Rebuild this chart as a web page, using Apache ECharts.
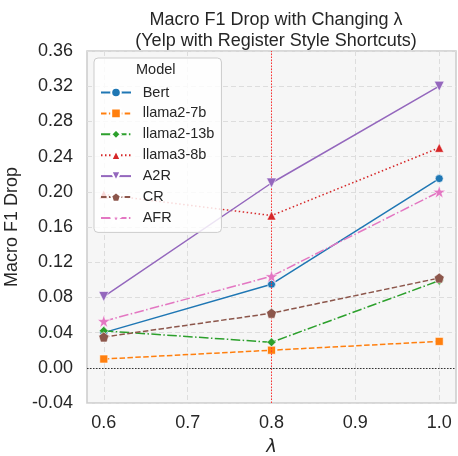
<!DOCTYPE html>
<html><head><meta charset="utf-8">
<script src="https://cdn.jsdelivr.net/npm/echarts@6/dist/echarts.min.js"></script>
<style>html,body{margin:0;padding:0;background:#fff}#c{width:458px;height:456px}</style>
</head><body><div id="c"></div>
<script>
const lambdas = [0.6, 0.8, 1.0];
const xTicks = [0.6, 0.7, 0.8, 0.9, 1.0];
const xRange = [0.58, 1.02];
const yRange = [-0.04, 0.36];
const refLambda = 0.8;
const modelNames = ['Bert', 'llama2-7b', 'llama2-13b', 'llama3-8b', 'A2R', 'CR', 'AFR'];
const bert = [0.040, 0.095, 0.215];
const llama27b = [0.010, 0.020, 0.030];
const llama213b = [0.042, 0.029, 0.099];
const llama38b = [0.197, 0.173, 0.250];
const a2r = [0.081, 0.210, 0.320];
const cr = [0.035, 0.062, 0.102];
const afr = [0.053, 0.104, 0.200];
const seriesValues = [bert, llama27b, llama213b, llama38b, a2r, cr, afr];
const colors = ['#1f77b4', '#ff7f0e', '#2ca02c', '#d62728', '#9467bd', '#8c564b', '#e377c2'];
const lineTypes = ['solid', [5.5, 2.4], [9.6, 2.4, 1.5, 2.4], [1.5, 2.5], 'solid', [5.5, 2.4], [9.6, 2.4, 1.5, 2.4]];
const symbols = ['circle', 'rect', 'diamond', 'triangle',
  'path://M0,0 L10,0 L5,9 Z',
  'path://M5,0 L10,3.6 L8.1,9.5 L1.9,9.5 L0,3.6 Z',
  'path://M50,0 L61.8,35.5 L99,35.5 L69,57.5 L80.5,93 L50,71 L19.5,93 L31,57.5 L1,35.5 L38.2,35.5 Z'];
const symbolSizes = [8, 8, 9, 9, 10, 10, 13];

const font = 'Liberation Sans';
const chart = echarts.init(document.getElementById('c'), null, {renderer: 'canvas'});

const series = modelNames.map((name, i) => ({
  name: name,
  type: 'line',
  data: lambdas.map((x, j) => [x, seriesValues[i][j]]),
  symbol: symbols[i],
  symbolSize: symbolSizes[i],
  showAllSymbol: true,
  color: colors[i],
  lineStyle: {color: colors[i], width: 1.5, type: lineTypes[i]},
  itemStyle: {color: colors[i], borderColor: '#ffffff', borderWidth: 0.6},
  emphasis: {disabled: true},
  z: 3 + i,
  animation: false
}));

series.push({
  name: 'refs',
  type: 'line',
  data: [],
  silent: true,
  markLine: {
    symbol: 'none',
    silent: true,
    label: {show: false},
    animation: false,
    data: [
      {xAxis: refLambda, lineStyle: {color: '#ff3333', type: [1.5, 1.5], width: 1}},
      {yAxis: 0, lineStyle: {color: '#333333', type: [1.5, 1.5], width: 1}}
    ]
  },
  z: 2
});

chart.setOption({
  animation: false,
  backgroundColor: '#ffffff',
  title: {
    text: 'Macro F1 Drop with Changing λ\n(Yelp with Register Style Shortcuts)',
    left: 271, top: 5, textAlign: 'center',
    textStyle: {fontFamily: font, fontSize: 18, fontWeight: 'normal', color: '#262626', lineHeight: 21}
  },
  grid: {
    left: 87, right: 2, top: 51, bottom: 53,
    outerBounds: {left: 0, right: 0, top: 0, bottom: 0},
    outerBoundsContain: 'axisLabel',
    show: true, backgroundColor: '#f6f6f6', borderColor: '#cccccc', borderWidth: 1.5
  },
  xAxis: {
    type: 'value', min: xRange[0], max: xRange[1],
    name: 'λ', nameLocation: 'middle', nameGap: 35,
    nameTextStyle: {fontFamily: 'DejaVu Sans', fontSize: 18, fontStyle: 'italic', color: '#262626'},
    axisLine: {show: false}, axisTick: {show: false, customValues: xTicks},
    axisLabel: {customValues: xTicks, fontFamily: font, fontSize: 18, color: '#262626', margin: 11,
      formatter: v => v.toFixed(1)},
    splitLine: {show: true, lineStyle: {color: '#dddddd', type: [5, 3], width: 1}}
  },
  yAxis: {
    type: 'value', min: yRange[0], max: yRange[1], interval: 0.04,
    name: 'Macro F1 Drop', nameLocation: 'middle', nameGap: 62, nameRotate: 90,
    nameTextStyle: {fontFamily: font, fontSize: 18, color: '#262626'},
    axisLine: {show: false}, axisTick: {show: false},
    axisLabel: {fontFamily: font, fontSize: 18, color: '#262626', margin: 14,
      formatter: v => (Math.abs(v) < 1e-9 ? 0 : v).toFixed(2)},
    splitLine: {show: true, lineStyle: {color: '#dddddd', type: [5, 3], width: 1}}
  },
  legend: {
    data: modelNames,
    orient: 'vertical',
    left: 94, top: 58,
    padding: [27, 7, 7, 6],
    itemWidth: 30, itemHeight: 12, itemGap: 5.9,
    backgroundColor: 'rgba(255,255,255,0.82)',
    borderColor: '#cccccc', borderWidth: 1, borderRadius: 4,
    textStyle: {fontFamily: font, fontSize: 14.5, color: '#262626', padding: [0, 0, 0, 6.7]},
    z: 20
  },
  graphic: [{
    type: 'text', left: 136, top: 62, z: 100,
    style: {text: 'Model', fontFamily: font, fontSize: 14.5, fill: '#262626'}
  }],
  series: series
});
</script></body></html>
